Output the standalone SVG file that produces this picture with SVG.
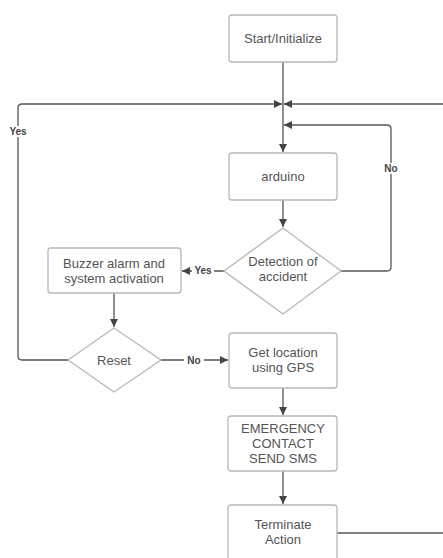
<svg xmlns="http://www.w3.org/2000/svg" width="443" height="558" viewBox="0 0 443 558">
<style>
.box{fill:#fff;stroke:#b8b8b8;stroke-width:1.3}
.t{font-family:"Liberation Sans",Arial,sans-serif;font-size:13px;fill:#555;text-anchor:middle}
.c{fill:none;stroke:#555;stroke-width:1.3}
.lbl{font-family:"Liberation Sans",Arial,sans-serif;font-size:10px;font-weight:bold;fill:#444;text-anchor:middle}
</style>
<defs>
<marker id="ah" viewBox="0 0 10 10" refX="10" refY="5" markerWidth="8" markerHeight="8" markerUnits="userSpaceOnUse" orient="auto">
<path d="M0,0 L10,5 L0,10 z" fill="#444"/>
</marker>
</defs>
<rect width="443" height="558" fill="#fff"/>
<g id="connectors">
<path class="c" d="M283,62 V152" marker-end="url(#ah)"/>
<path class="c" d="M68,360 H22 Q18,360 18,356 V108 Q18,104 22,104 H282" marker-end="url(#ah)"/>
<path class="c" d="M443,104 H284" marker-end="url(#ah)"/>
<path class="c" d="M341,271 H387 Q391,271 391,267 V129 Q391,125 387,125 H284" marker-end="url(#ah)"/>
<path class="c" d="M283,200 V227" marker-end="url(#ah)"/>
<path class="c" d="M224,271 H182" marker-end="url(#ah)"/>
<path class="c" d="M114,293 V327" marker-end="url(#ah)"/>
<path class="c" d="M161,360 H228" marker-end="url(#ah)"/>
<path class="c" d="M283,388 V415" marker-end="url(#ah)"/>
<path class="c" d="M283,471 V504" marker-end="url(#ah)"/>
<path class="c" d="M337,533 H443"/>
<rect x="192" y="265" width="22" height="11" fill="#fff"/>
<text class="lbl" x="203" y="274">Yes</text>
<rect x="184" y="354" width="20" height="11" fill="#fff"/>
<text class="lbl" x="194" y="364">No</text>
<rect x="8" y="126" width="20" height="11" fill="#fff"/>
<text class="lbl" x="18" y="135">Yes</text>
<rect x="382" y="163" width="18" height="11" fill="#fff"/>
<text class="lbl" x="391" y="172">No</text>
</g>
<g id="start">
<rect class="box" x="229" y="15" width="108" height="47" rx="3"/>
<text class="t" x="283" y="42.5">Start/Initialize</text>
</g>
<g id="arduino">
<rect class="box" x="229" y="153" width="108" height="47" rx="3"/>
<text class="t" x="283" y="180.5">arduino</text>
</g>
<g id="detection">
<polygon class="box" points="283,228 341,271 283,314 224,271"/>
<text class="t" x="283" y="265.5">Detection of</text>
<text class="t" x="283" y="280.5">accident</text>
</g>
<g id="buzzer">
<rect class="box" x="48" y="248" width="133" height="45" rx="3"/>
<text class="t" x="114" y="267.5">Buzzer alarm and</text>
<text class="t" x="114" y="282.5">system activation</text>
</g>
<g id="reset">
<polygon class="box" points="114,328 161,360 114,392 68,360"/>
<text class="t" x="114" y="364.5">Reset</text>
</g>
<g id="gps">
<rect class="box" x="229" y="333" width="108" height="55" rx="3"/>
<text class="t" x="283" y="356.5">Get location</text>
<text class="t" x="283" y="371.5">using GPS</text>
</g>
<g id="sms">
<rect class="box" x="228" y="416" width="109" height="55" rx="3"/>
<text class="t" x="283" y="432.5">EMERGENCY</text>
<text class="t" x="283" y="447.5">CONTACT</text>
<text class="t" x="283" y="462.5">SEND SMS</text>
</g>
<g id="terminate">
<rect class="box" x="228" y="505" width="109" height="60" rx="3"/>
<text class="t" x="283" y="528.5">Terminate</text>
<text class="t" x="283" y="543.5">Action</text>
</g>
</svg>
